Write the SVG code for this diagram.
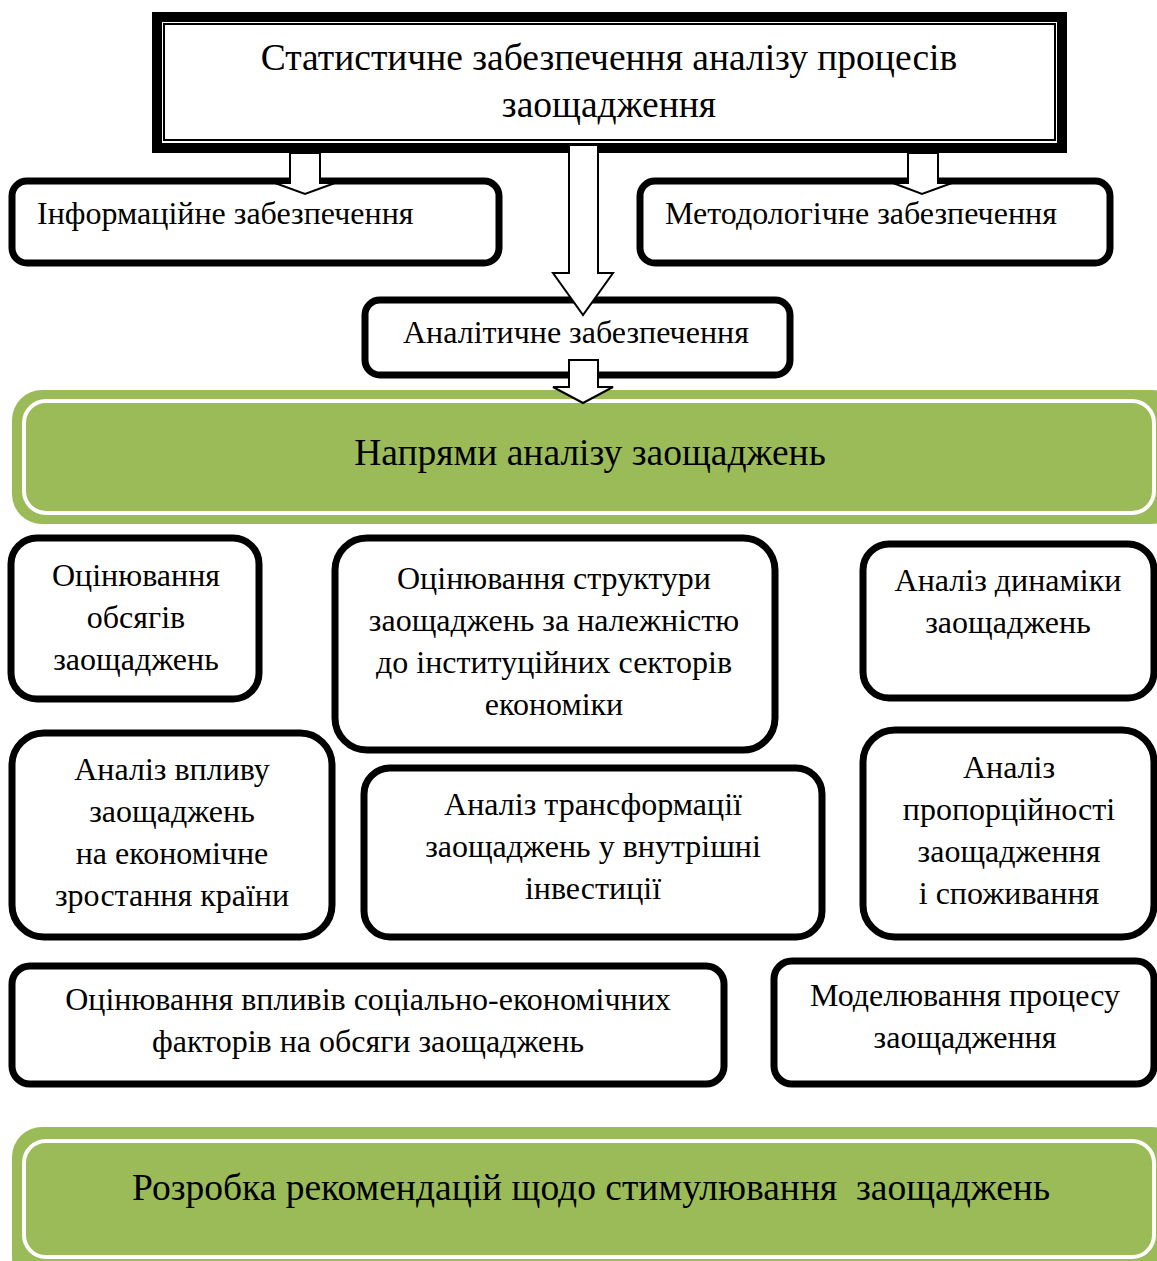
<svg xmlns="http://www.w3.org/2000/svg" width="1157" height="1261" viewBox="0 0 1157 1261">
<style>
text{font-family:"Liberation Serif","Times New Roman",serif;fill:#000}
.t{font-size:32px}
.big{font-size:37.5px}
.c{text-anchor:middle}
.box{fill:#fff;stroke:#000;stroke-width:7}
.gout{fill:#9BBB59}
.gin{fill:#9BBB59;stroke:#fff;stroke-width:4}
.arr{fill:#fff;stroke:#000;stroke-width:2;stroke-linejoin:miter}
</style>
<rect width="1157" height="1261" fill="#fff"/>
<g id="n-title">
<rect x="157" y="17" width="905" height="131" fill="#fff" stroke="#000" stroke-width="10"/>
<rect x="164" y="24" width="891" height="116" fill="none" stroke="#000" stroke-width="2"/>
<text class="c big" x="609" y="70">Статистичне забезпечення аналізу процесів</text>
<text class="c big" x="609" y="117">заощадження</text>
</g>
<g id="n-info">
<rect class="box" x="12" y="181" width="487" height="82" rx="15"/>
<text class="t" x="37" y="224">Інформаційне забезпечення</text>
</g>
<g id="n-method">
<rect class="box" x="640" y="181" width="470" height="82" rx="15"/>
<text class="t" x="665" y="224">Методологічне забезпечення</text>
</g>
<g id="n-analyt">
<rect class="box" x="365" y="300" width="425" height="75" rx="15"/>
<text class="t" x="403" y="343">Аналітичне забезпечення</text>
</g>
<g id="n-directions">
<rect class="gout" x="12" y="390" width="1170" height="134" rx="30"/>
<rect class="gin" x="24" y="401" width="1130" height="112" rx="22"/>
<text class="c big" x="590" y="465">Напрями аналізу заощаджень</text>
</g>
<g id="n-obsyag">
<rect class="box" x="11" y="538" width="248" height="161" rx="26"/>
<text class="t c" x="136" y="586">Оцінювання</text>
<text class="t c" x="136" y="628">обсягів</text>
<text class="t c" x="136" y="670">заощаджень</text>
</g>
<g id="n-struct">
<rect class="box" x="335" y="538" width="440" height="212" rx="32"/>
<text class="t c" x="554" y="589">Оцінювання структури</text>
<text class="t c" x="554" y="631">заощаджень за належністю</text>
<text class="t c" x="554" y="673">до інституційних секторів</text>
<text class="t c" x="554" y="715">економіки</text>
</g>
<g id="n-dynamic">
<rect class="box" x="863" y="544" width="291" height="154" rx="26"/>
<text class="t c" x="1008" y="591">Аналіз динаміки</text>
<text class="t c" x="1008" y="633">заощаджень</text>
</g>
<g id="n-growth">
<rect class="box" x="12" y="733" width="320" height="204" rx="32"/>
<text class="t c" x="172" y="780">Аналіз впливу</text>
<text class="t c" x="172" y="822">заощаджень</text>
<text class="t c" x="172" y="864">на економічне</text>
<text class="t c" x="172" y="906">зростання країни</text>
</g>
<g id="n-transform">
<rect class="box" x="364" y="768" width="458" height="169" rx="26"/>
<text class="t c" x="593" y="815">Аналіз трансформації</text>
<text class="t c" x="593" y="857">заощаджень у внутрішні</text>
<text class="t c" x="593" y="899">інвестиції</text>
</g>
<g id="n-proportion">
<rect class="box" x="863" y="730" width="291" height="207" rx="32"/>
<text class="t c" x="1009" y="778">Аналіз</text>
<text class="t c" x="1009" y="820">пропорційності</text>
<text class="t c" x="1009" y="862">заощадження</text>
<text class="t c" x="1009" y="904">і споживання</text>
</g>
<g id="n-factors">
<rect class="box" x="12" y="966" width="712" height="118" rx="18"/>
<text class="t c" x="368" y="1010">Оцінювання впливів соціально-економічних</text>
<text class="t c" x="368" y="1052">факторів на обсяги заощаджень</text>
</g>
<g id="n-model">
<rect class="box" x="774" y="961" width="380" height="123" rx="18"/>
<text class="t c" x="965" y="1006">Моделювання процесу</text>
<text class="t c" x="965" y="1048">заощадження</text>
</g>
<g id="n-recommend">
<rect class="gout" x="12" y="1127" width="1170" height="160" rx="30"/>
<rect class="gin" x="24" y="1141" width="1130" height="116" rx="22"/>
<text class="c big" x="591" y="1200" xml:space="preserve">Розробка рекомендацій щодо стимулювання  заощаджень</text>
</g>
<g id="connectors">
<polygon class="arr" points="290,153 320,153 320,183 335,183 305,194 275,183 290,183"/>
<polygon class="arr" points="908,153 938,153 938,183 952,183 922,194 893,183 908,183"/>
<polygon class="arr" points="569,145 598,145 598,273 613,273 583,315 553,273 569,273"/>
<polygon class="arr" points="569,360 598,360 598,387 613,387 583,403 553,387 569,387"/>
</g>
</svg>
